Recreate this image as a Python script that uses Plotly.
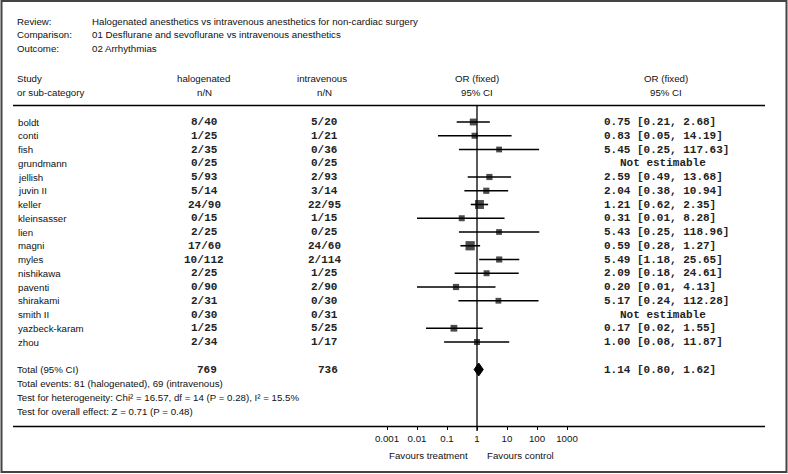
import plotly.graph_objects as go

# ---------------- data ----------------
studies = ["boldt", "conti", "fish", "grundmann", "jellish", "juvin II", "keller",
           "kleinsasser", "lien", "magni", "myles", "nishikawa", "paventi",
           "shirakami", "smith II", "yazbeck-karam", "zhou"]
halo_n = [8, 1, 2, 0, 5, 5, 24, 0, 2, 17, 10, 2, 0, 2, 0, 1, 2]
halo_N = [40, 25, 35, 25, 93, 14, 90, 15, 25, 60, 112, 25, 90, 31, 30, 25, 34]
iv_n = [5, 1, 0, 0, 2, 3, 22, 1, 0, 24, 2, 1, 2, 0, 0, 5, 1]
iv_N = [20, 21, 36, 25, 93, 14, 95, 15, 25, 60, 114, 25, 90, 30, 31, 25, 17]
or_est = [0.75, 0.83, 5.45, None, 2.59, 2.04, 1.21, 0.31, 5.43, 0.59, 5.49, 2.09, 0.20, 5.17, None, 0.17, 1.00]
or_lo = [0.21, 0.05, 0.25, None, 0.49, 0.38, 0.62, 0.01, 0.25, 0.28, 1.18, 0.18, 0.01, 0.24, None, 0.02, 0.08]
or_hi = [2.68, 14.19, 117.63, None, 13.68, 10.94, 2.35, 8.28, 118.96, 1.27, 25.65, 24.61, 4.13, 112.28, None, 1.55, 11.87]
weight_pct = [9.7, 1.9, 0.0, 0.0, 3.5, 3.5, 28.6, 1.8, 0.0, 31.3, 3.3, 1.7, 3.6, 0.0, 0.0, 8.7, 2.3]

total_halo_N = 769
total_iv_N = 736
total_or = 1.14
total_lo = 0.80
total_hi = 1.62
total_events = "Total events: 81 (halogenated), 69 (intravenous)"
heterogeneity = "Test for heterogeneity: Chi² = 16.57, df = 14 (P = 0.28), I² = 15.5%"
overall = "Test for overall effect: Z = 0.71 (P = 0.48)"

tick_vals = [0.001, 0.01, 0.1, 1, 10, 100, 1000]
tick_text = ["0.001", "0.01", "0.1", "1", "10", "100", "1000"]

header_keys = ["Review:", "Comparison:", "Outcome:"]
header_vals = ["Halogenated anesthetics vs intravenous anesthetics for non-cardiac surgery",
               "01 Desflurane and sevoflurane vs intravenous anesthetics",
               "02 Arrhythmias"]

# ---------------- layout helpers ----------------
W, H = 788, 474
ROW0, ROWH = 122.0, 13.75          # pixel y of first row, row height


def px(x):
    return x / W


def py(y):
    return 1 - y / H


SANS = "Liberation Sans, Arial, sans-serif"
MONO = "Liberation Mono, Courier New, monospace"
TXT = "#111111"
MTXT = "#222222"
FS = 9.7
FM = 11

fig = go.Figure()

total_row = len(studies) + 1

# CI lines
lx, ly = [], []
for i, (lo, hi) in enumerate(zip(or_lo, or_hi)):
    if lo is None:
        continue
    lx += [lo, hi, None]
    ly += [i, i, None]
fig.add_trace(go.Scatter(x=lx, y=ly, mode="lines",
                         line=dict(color="black", width=1.6),
                         hoverinfo="skip", showlegend=False))

# point estimates
mx = [e for e in or_est if e is not None]
my = [i for i, e in enumerate(or_est) if e is not None]
ms = [5.8 + 0.11 * w for w, e in zip(weight_pct, or_est) if e is not None]
fig.add_trace(go.Scatter(x=mx, y=my, mode="markers",
                         marker=dict(symbol="square", size=ms, color="black",
                                     line=dict(width=0)),
                         showlegend=False))

# pooled diamond
dh = 0.47
fig.add_trace(go.Scatter(x=[total_lo, total_or, total_hi, total_or, total_lo],
                         y=[total_row, total_row - dh, total_row, total_row + dh, total_row],
                         mode="lines", fill="toself", fillcolor="black",
                         line=dict(color="black", width=1), showlegend=False))

ann = []


def add(text, x, y, anchor="left", font=SANS, size=FS, yref="paper", color=TXT):
    ann.append(dict(text=text, x=px(x), y=y, xref="paper", yref=yref,
                    xanchor=anchor, yanchor="middle", showarrow=False,
                    font=dict(family=font, size=size, color=color)))


def addm(text, x, y, anchor):
    add(f"<b>{text}</b>", x, y, anchor, MONO, FM, "y", MTXT)


# header block
for k, (key, val) in enumerate(zip(header_keys, header_vals)):
    yy = [21, 35, 49][k]
    add(key, 15, py(yy))
    add(val, 90, py(yy))

add("Study", 15, py(79))
add("or sub-category", 15, py(93))
add("halogenated", 203, py(79), "center")
add("n/N", 205, py(93), "center")
add("intravenous", 322, py(79), "center")
add("n/N", 324, py(93), "center")
add("OR (fixed)", 477, py(79), "center")
add("95% CI", 477, py(93), "center")
add("OR (fixed)", 666, py(79), "center")
add("95% CI", 666, py(93), "center")

# study rows
for i, s in enumerate(studies):
    add(s, 16, i, yref="y")
    addm(f"{halo_n[i]}/{halo_N[i]}", 204, i, "center")
    addm(f"{iv_n[i]}/{iv_N[i]}", 324, i, "center")
    if or_est[i] is None:
        addm("Not estimable", 663, i, "center")
    else:
        addm(f"{or_est[i]:.2f} [{or_lo[i]:.2f}, {or_hi[i]:.2f}]", 602, i, "left")

# totals
add("Total (95% CI)", 15, total_row, yref="y")
addm(str(total_halo_N), 207, total_row, "center")
addm(str(total_iv_N), 328, total_row, "center")
addm(f"{total_or:.2f} [{total_lo:.2f}, {total_hi:.2f}]", 602, total_row, "left")
add(total_events, 15, total_row + 1.05, yref="y")
add(heterogeneity, 15, total_row + 2.07, yref="y")
add(overall, 15, total_row + 3.09, yref="y")

add("Favours treatment", 470, py(455), "right")
add("Favours control", 485, py(455), "left")

AXY = 426.5
shapes = [
    dict(type="line", xref="paper", yref="paper", x0=px(13), x1=px(765),
         y0=py(105.5), y1=py(105.5), line=dict(color="black", width=1.3)),
    dict(type="line", xref="paper", yref="paper", x0=px(13), x1=px(765),
         y0=py(AXY), y1=py(AXY), line=dict(color="black", width=1.3)),
    dict(type="line", xref="x", yref="paper", x0=1, x1=1,
         y0=py(105.5), y1=py(431), line=dict(color="black", width=1.3)),
    dict(type="rect", xref="paper", yref="paper", x0=px(1.5), x1=px(786.5),
         y0=py(472), y1=py(1), line=dict(color="#444444", width=2)),
]

fig.update_layout(
    width=W, height=H, margin=dict(l=0, r=0, t=0, b=0),
    paper_bgcolor="white", plot_bgcolor="rgba(0,0,0,0)",
    annotations=ann, shapes=shapes, showlegend=False,
    xaxis=dict(type="log", range=[-4, 4], domain=[px(357), px(597)],
               anchor="free", position=py(AXY - 1.5),
               tickvals=tick_vals, ticktext=tick_text,
               ticks="outside", ticklen=4, tickcolor="black", tickwidth=1,
               tickfont=dict(family=SANS, size=FS, color=TXT),
               showgrid=False, zeroline=False, showline=False, fixedrange=True),
    yaxis=dict(range=[(H - ROW0) / ROWH, -ROW0 / ROWH], domain=[0, 1],
               visible=False, fixedrange=True),
)

fig.write_html("out.html", config={"displayModeBar": False},
               post_script="document.body.style.margin='0';document.body.style.padding='0';")
